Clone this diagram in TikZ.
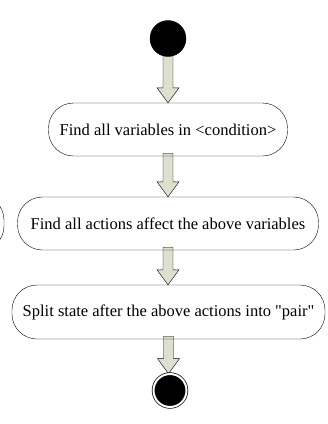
\documentclass[tikz,border=0pt]{standalone}
\usepackage{fontspec}
\setmainfont{Liberation Serif}[Ligatures=TeXOff]
\usetikzlibrary{calc,backgrounds}

\definecolor{arrowfill}{RGB}{221,224,206}

\tikzset{
  action/.style={draw, thin, rounded corners=25pt, minimum height=53pt, inner sep=0pt,
    font=\fontsize{16.5}{19}\selectfont},
  startdot/.style={circle, fill=black, draw=black, minimum size=36pt, inner sep=0pt},
  enddot/.style={circle, fill=black, draw=black, double=white, double distance=2pt,
    line width=0.7pt, minimum size=33pt, inner sep=0pt},
  blockarrow/.style={draw, thin, fill=arrowfill},
}

% block arrow from the south of #1 to the north of #2
\newcommand{\flowarrow}[2]{
  \draw[blockarrow] let \p1=(#1.south), \p2=(#2.north) in
    (\x1-5pt,\y1+3pt) -- (\x1-5pt,\y2+15pt) -- (\x1-11pt,\y2+15pt) -- (\x1,\y2)
    -- (\x1+11pt,\y2+15pt) -- (\x1+5pt,\y2+15pt) -- (\x1+5pt,\y1+3pt) -- cycle;
}

\begin{document}
\begin{tikzpicture}[x=1pt,y=1pt]
\useasboundingbox (0,0) rectangle (328,-424);
\clip (0,0) rectangle (328,-424);

\node[startdot] (start) at (168,-38.5) {};
\node[action, minimum width=239pt] (findvars) at (168,-129.5) {Find all variables in <condition>};
\node[action, minimum width=301pt] (findacts) at (168,-223.5) {Find all actions affect the above variables};
\node[action, minimum width=313pt, minimum height=54pt] (split) at (168.5,-312) {Split state after the above actions into "pair"};
\node[enddot] (final) at (170,-390.5) {};
% cut-off neighbour on the left
\node[action, minimum width=200pt, minimum height=56pt] (other) at (-96,-223) {};

\begin{scope}[on background layer]
\flowarrow{start}{findvars}
\flowarrow{findvars}{findacts}
\flowarrow{findacts}{split}
\flowarrow{split}{final}
\end{scope}
\end{tikzpicture}
\end{document}
